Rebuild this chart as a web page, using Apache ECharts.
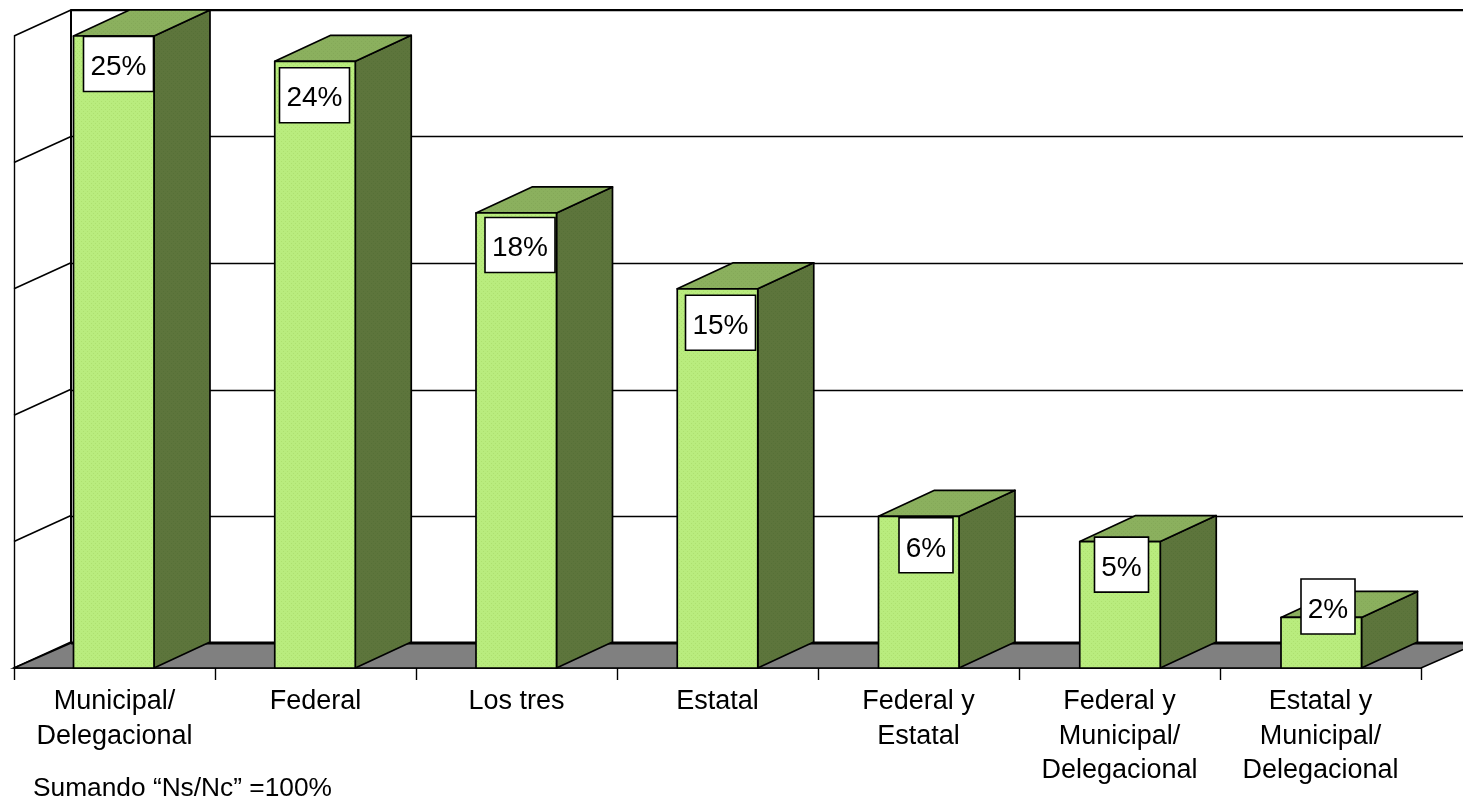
<!DOCTYPE html>
<html><head><meta charset="utf-8">
<style>html,body{margin:0;padding:0;background:#fff}#c{width:1463px;height:801px}</style>
<script src="https://cdn.jsdelivr.net/npm/echarts@6/dist/echarts.min.js"></script>
</head><body><div id="c"></div>
<script>
const categories = ['Municipal/\nDelegacional','Federal','Los tres','Estatal','Federal y\nEstatal','Federal y\nMunicipal/\nDelegacional','Estatal y\nMunicipal/\nDelegacional'];
const values = [25,24,18,15,6,5,2];
const valueLabels = ['25%','24%','18%','15%','6%','5%','2%'];
const footnote = 'Sumando “Ns/Nc” =100%';
const wallTicks = [0,5,10,15,20,25];

// layout constants (not data)
const DX = 56, WALL_DX = 57, DY = 26;
const BAR_W = 80.5, BAR_DRIFT = 0.25;
const labelNudge = [[5,28],[0,34],[4.5,32],[4,34],[8.5,29],[3,23],[8.5,-11]];
const labelBox = [[70,55],[70,55],[70,55],[70,55],[54,55],[54,55],[54,55]];

function tile(bg, dot){
  const c = document.createElement('canvas'); c.width = c.height = 4;
  const g = c.getContext('2d');
  g.fillStyle = bg; g.fillRect(0,0,4,4);
  g.fillStyle = dot; g.fillRect(1,1,1,1); g.fillRect(3,3,1,1);
  return {image:c, repeat:'repeat'};
}
const FRONT = tile('#b9ec7e','#aee070');
const SIDE = tile('#5d753c','#567037');
const TOP = tile('#8bb05e','#84a858');

const barItem = (p, api) => {
  const i = api.value(0), v = api.value(1);
  const c = api.coord([i, v]), b = api.coord([i, 0]);
  const r = c[0]+39.5+i*BAR_DRIFT, l = r-BAR_W, t = c[1], bt = b[1];
  const st = {stroke:'#000', lineWidth:1.7, lineJoin:'round'};
  return {type:'group', children:[
    {type:'polygon', shape:{points:[[r,bt],[r+DX,bt-DY],[r+DX,t-DY],[r,t]]}, style:{...st, fill:SIDE}},
    {type:'polygon', shape:{points:[[l,t],[l+DX,t-DY],[r+DX,t-DY],[r,t]]}, style:{...st, fill:TOP}},
    {type:'rect', shape:{x:l,y:t,width:BAR_W,height:bt-t}, style:{...st, fill:FRONT}}
  ]};
};
const labelItem = (p, api) => {
  const i = api.value(0), v = api.value(1);
  const c = api.coord([i, v]);
  const [nx,ny] = labelNudge[i], [w,h] = labelBox[i];
  const cx = c[0]-1+nx, cy = c[1]+ny;
  return {type:'group', children:[
    {type:'rect', shape:{x:cx-w/2,y:cy-h/2,width:w,height:h}, style:{fill:'#fff',stroke:'#000',lineWidth:1.6}},
    {type:'text', style:{x:cx,y:cy+3.5,text:valueLabels[i],align:'center',verticalAlign:'middle',
      fontFamily:'"Liberation Sans",Arial,sans-serif',fontSize:28,fill:'#000'}}
  ]};
};
const floorItem = (p, api) => {
  const cs = p.coordSys, x0 = cs.x, y0 = cs.y+cs.height, x1 = cs.x+cs.width;
  const by = y0-DY+1;
  return {type:'group', children:[
    {type:'polygon', shape:{points:[[x0,y0],[x0+WALL_DX,by],[x1+WALL_DX,by],[x1,y0]]}, style:{fill:'#808080',stroke:'#000',lineWidth:1.7}},
    {type:'line', shape:{x1:x0+WALL_DX,y1:by,x2:x1+WALL_DX,y2:by}, style:{stroke:'#000',lineWidth:3}}
  ]};
};
const wallItem = (p, api) => {
  const v = api.value(0), c = api.coord([0, v]);
  const x0 = p.coordSys.x, top = v === wallTicks[wallTicks.length-1];
  const kids = [{type:'line', shape:{x1:x0,y1:c[1],x2:x0+WALL_DX,y2:c[1]-DY}, style:{stroke:'#000',lineWidth:1.6}}];
  if (top) kids.push({type:'line', shape:{x1:x0+WALL_DX,y1:c[1]-DY,x2:1463,y2:c[1]-DY}, style:{stroke:'#000',lineWidth:2}});
  return {type:'group', children:kids};
};

const chart = echarts.init(document.getElementById('c'), null, {renderer:'canvas'});
chart.setOption({
  animation:false, backgroundColor:'#fff',
  grid:[
    {left:14, right:42, top:36, bottom:133},
    {left:71, right:0, top:10, bottom:158}
  ],
  xAxis:[
    {type:'category', gridIndex:0, data:categories, boundaryGap:true,
     axisLine:{show:true, lineStyle:{color:'#000',width:1.7}},
     axisTick:{show:true, length:12, alignWithLabel:false, lineStyle:{color:'#000',width:1.4}},
     axisLabel:{show:true, interval:0, margin:16.5, lineHeight:34.5, fontSize:27, color:'#000', verticalAlign:'top',
       fontFamily:'"Liberation Sans",Arial,sans-serif'}},
    {type:'category', gridIndex:1, data:categories, show:false}
  ],
  yAxis:[
    {type:'value', gridIndex:0, min:0, max:25, interval:5,
     axisLine:{show:true, lineStyle:{color:'#000',width:1.4}}, axisTick:{show:false}, axisLabel:{show:false}, splitLine:{show:false}},
    {type:'value', gridIndex:1, min:0, max:25, interval:5,
     axisLine:{show:true, lineStyle:{color:'#000',width:2}}, axisTick:{show:false}, axisLabel:{show:false},
     splitLine:{show:true, lineStyle:{color:'#000',width:1.4}}}
  ],
  graphic:[{type:'text', left:33, top:776, z:20, style:{text:footnote, fontSize:26.3, fill:'#000', fontFamily:'"Liberation Sans",Arial,sans-serif'}}],
  series:[
    {type:'custom', xAxisIndex:0, yAxisIndex:0, z:2, clip:false, data:wallTicks.map(v=>[v]), renderItem:wallItem, silent:true},
    {type:'custom', xAxisIndex:0, yAxisIndex:0, z:3, clip:false, data:[[0]], renderItem:floorItem, silent:true},
    {type:'custom', xAxisIndex:0, yAxisIndex:0, z:4, clip:false, data:values.map((v,i)=>[i,v]), encode:{x:0,y:1}, renderItem:barItem, silent:true},
    {type:'custom', xAxisIndex:0, yAxisIndex:0, z:5, clip:false, data:values.map((v,i)=>[i,v]), encode:{x:0,y:1}, renderItem:labelItem, silent:true}
  ]
});
</script></body></html>
